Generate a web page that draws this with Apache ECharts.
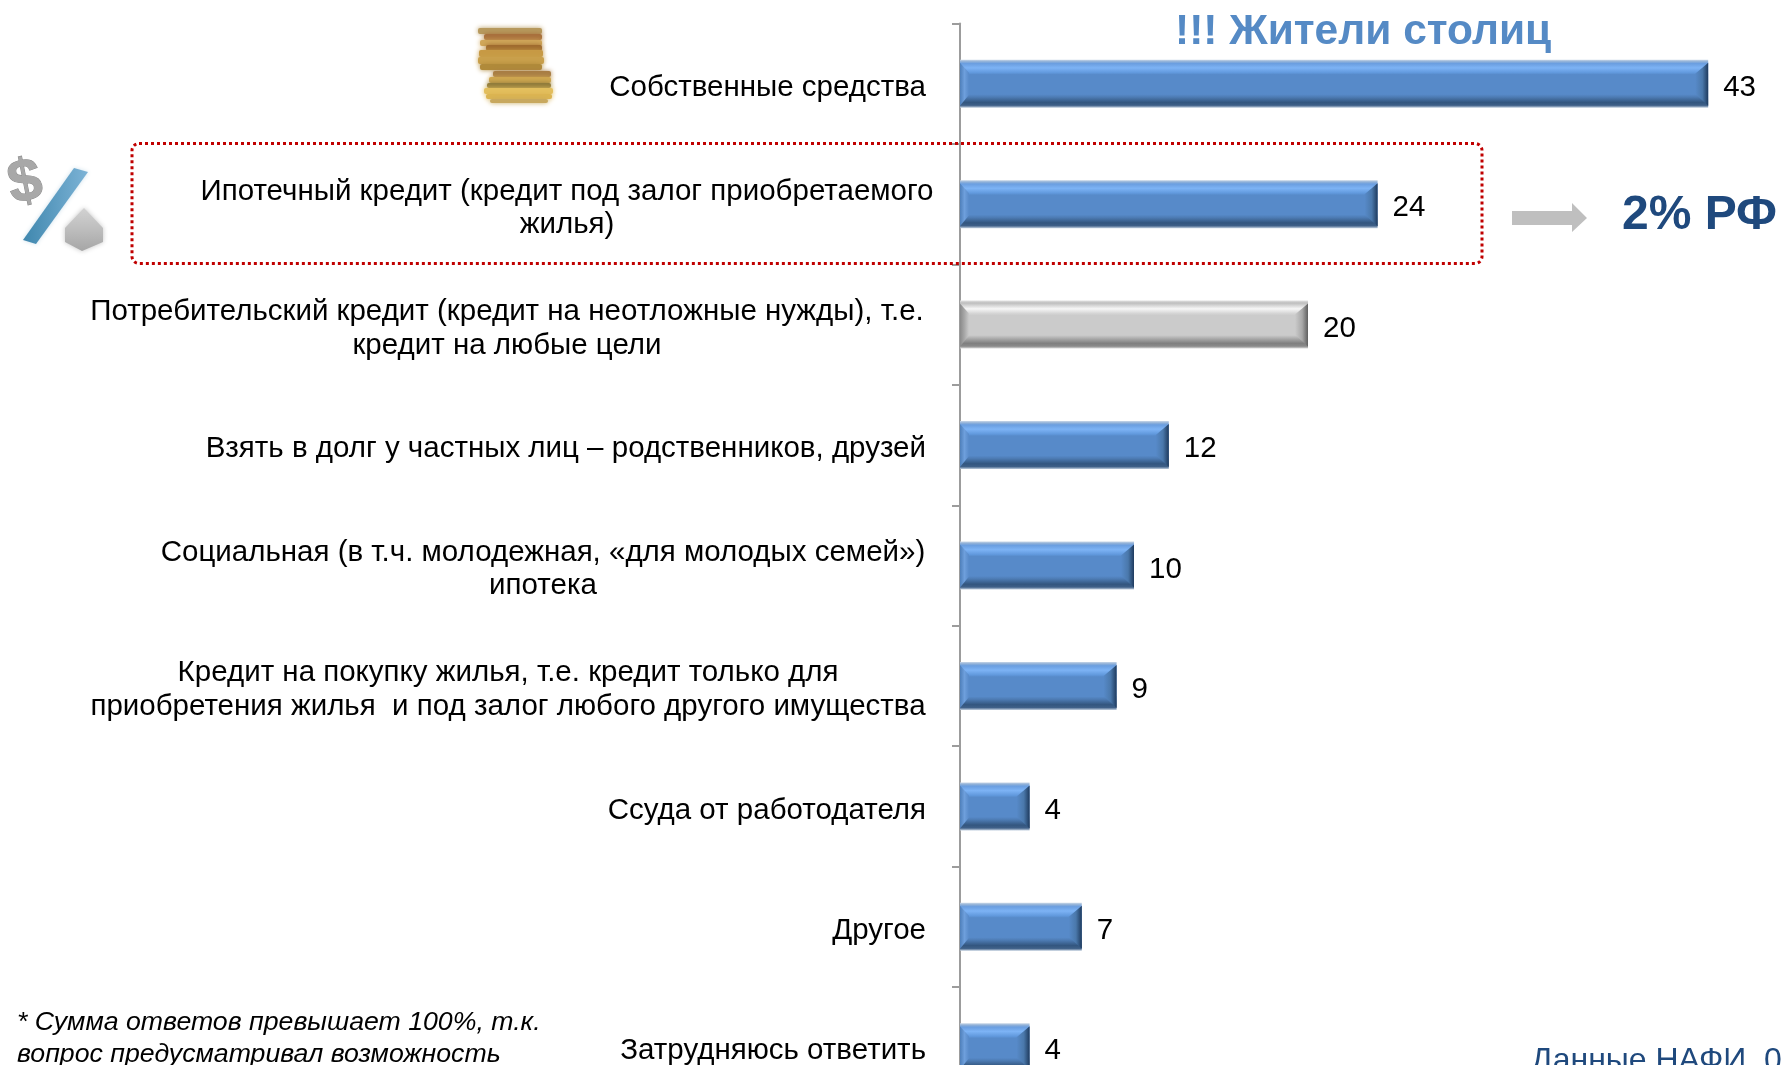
<!DOCTYPE html>
<html>
<head>
<meta charset="utf-8">
<style>html,body{margin:0;padding:0;background:#fff;overflow:hidden}#c{width:1781px;height:1065px}</style>
<script src="https://cdn.jsdelivr.net/npm/echarts@6/dist/echarts.min.js"></script>
</head>
<body>
<div id="c"></div>
<script>
const categories = [
  'Собственные средства',
  'Ипотечный кредит (кредит под залог приобретаемого\nжилья)',
  'Потребительский кредит (кредит на неотложные нужды), т.е.\nкредит на любые цели',
  'Взять в долг у частных лиц – родственников, друзей',
  'Социальная (в т.ч. молодежная, «для молодых семей»)\nипотека',
  'Кредит на покупку жилья, т.е. кредит только для\nприобретения жилья  и под залог любого другого имущества',
  'Ссуда от работодателя',
  'Другое',
  'Затрудняюсь ответить'
];
const values = [43, 24, 20, 12, 10, 9, 4, 7, 4];
const greyIndex = [2];
const titleText = '!!! Жители столиц';
const sideNote = '2% РФ';
const sourceText = 'Данные НАФИ, 0';
const footnoteText = '* Сумма ответов превышает 100%, т.к.\nвопрос предусматривал возможность';

const FONT = '"Liberation Sans", Arial, sans-serif';
const LABEL_SIZE = 29.5, BAR_H = 48, BEVEL = 13;
const blockWidths = {1: 734, 2: 838, 4: 766, 5: 836};
const rightPads = {0: 8, 2: 8, 3: 8, 4: 8, 5: 8, 6: 8, 7: 8, 8: 8};

function vgrad(stops){
  return {type:'linear',x:0,y:0,x2:0,y2:1,colorStops:stops.map(s=>({offset:s[0],color:s[1]}))};
}
function hgrad(stops){
  return {type:'linear',x:0,y:0,x2:1,y2:0,colorStops:stops.map(s=>({offset:s[0],color:s[1]}))};
}
const blueFill = vgrad([[0,'#c8d6e6'],[0.04,'#8fb0d8'],[0.08,'#6a9ee0'],[0.17,'#7db3f5'],[0.27,'#6199dd'],[0.31,'#578ac9'],[0.72,'#578ac9'],[0.78,'#4d7bb3'],[0.89,'#33567f'],[0.95,'#3f6088'],[1,'#c0cede']]);
const greyFill = vgrad([[0,'#e0e0e0'],[0.05,'#bdbdbd'],[0.17,'#f6f6f6'],[0.27,'#d4d4d4'],[0.31,'#cbcbcb'],[0.72,'#cbcbcb'],[0.79,'#ababab'],[0.89,'#7f7f7f'],[0.95,'#8a8a8a'],[1,'#dcdcdc']]);

const rich = {};
categories.forEach((c,i)=>{
  rich['r'+i] = {
    fontFamily: FONT, fontSize: LABEL_SIZE, lineHeight: 33.5, color:'#000',
    align: blockWidths[i] ? 'center' : 'right',
    padding: [0, rightPads[i] || 0, 0, 0]
  };
  if (blockWidths[i]) rich['r'+i].width = blockWidths[i];
});

function bevelItem(params, api){
  const idx = api.value(0), val = api.value(1);
  const p = api.coord([val, idx]);
  const p0 = api.coord([0, idx]);
  const y = p[1]-BAR_H/2, h = BAR_H, x1 = p[0], x0 = p0[0];
  const grey = greyIndex.includes(idx);
  const main = grey ? '#cbcbcb' : '#578ac9';
  const dark = grey ? '#5f5f5f' : '#1f3b5e';
  const mid = grey ? '#a8a8a8' : '#4a78ab';
  const lite = grey ? '#a8a8a8' : '#6e9fdc';
  const t = 3, b = 2;
  return {type:'group', silent:true, children:[
    {type:'polygon', shape:{points:[[x1-BEVEL,y+BEVEL+1],[x1,y+t],[x1,y+h-b],[x1-BEVEL,y+h-BEVEL-1]]},
     style:{fill:{type:'linear',x:x1-BEVEL,y:0,x2:x1,y2:0,global:true,colorStops:[{offset:0,color:main},{offset:0.55,color:mid},{offset:1,color:dark}]}}},
    {type:'polygon', shape:{points:[[x0,y+t],[x0+9,y+BEVEL],[x0+9,y+h-BEVEL],[x0,y+h-b]]},
     style:{fill:{type:'linear',x:x0,y:0,x2:x0+9,y2:0,global:true,colorStops:[{offset:0,color:grey?'#8a8a8a':'#4e7fba'},{offset:0.5,color:lite},{offset:1,color:main}]}}}
  ]};
}

const coinRows = [
  [478,28,64,6,'#b79a5e'],[484,34,58,6,'#a8703c'],[480,40,62,6,'#d0a75a'],
  [486,45,56,6,'#9e6a2e'],[479,50,64,7,'#c79a45'],[478,57,66,7,'#c9a04c'],[480,64,62,6,'#b08a3a'],
  [493,71,58,6,'#a87d45'],[489,77,62,6,'#cfa750'],[487,83,64,5,'#8f7a3a'],[484,88,69,6,'#e3bf5e'],[486,94,66,5,'#dcb551'],[490,99,58,4,'#c8a85e']
];
const coinEls = coinRows.map(r=>({type:'rect',shape:{x:r[0],y:r[1],width:r[2],height:r[3],r:2},style:{fill:r[4],shadowBlur:5,shadowColor:r[4]}}));

const chart = echarts.init(document.getElementById('c'), null, {renderer:'canvas'});
chart.setOption({
  animation:false,
  backgroundColor:'#fff',
  grid:{left:960,top:23.5,width:870,height:1084,containLabel:false,outerBoundsMode:'none'},
  xAxis:{type:'value',min:0,max:50,show:false},
  yAxis:{
    type:'category',inverse:true,data:categories,
    axisLine:{show:true,lineStyle:{color:'#9c9c9c',width:2}},
    axisTick:{show:true,length:8,lineStyle:{color:'#9c9c9c',width:2},alignWithLabel:false},
    axisLabel:{
      interval:0,margin:26,align:'right',hideOverlap:false,padding:[8,0,0,0],
      fontFamily:FONT,fontSize:LABEL_SIZE,color:'#000',
      formatter:(v,i)=>v.split('\n').map(l=>`{r${i}|${l}}`).join('\n'),
      rich
    },
    splitLine:{show:false}
  },
  series:[
    {type:'bar',barWidth:BAR_H,z:2,
     data:values.map((v,i)=>({value:v,itemStyle:{color:greyIndex.includes(i)?greyFill:blueFill}})),
     label:{show:true,position:'right',distance:15,offset:[0,4],fontFamily:FONT,fontSize:LABEL_SIZE,color:'#000'}},
    {type:'custom',z:3,silent:true,renderItem:bevelItem,
     encode:{x:1,y:0},data:values.map((v,i)=>[i,v])}
  ],
  graphic:[
    {type:'group',z:1,children:coinEls},
    {type:'group',z:1,children:[
      {type:'text',x:3,y:158,rotation:0.2,style:{text:'$',font:'bold 60px "Liberation Sans"',fill:'#a8a8a8',stroke:'#8a8a8a',lineWidth:1,shadowBlur:6,shadowColor:'#bbb'}},
      {type:'polygon',shape:{points:[[74,168],[88,172],[36,244],[23,240]]},style:{fill:hgrad([[0,'#3f87ae'],[1,'#7db3d6']]),shadowBlur:4,shadowColor:'#cfe1ec'}},
      {type:'polygon',shape:{points:[[65,228],[84,208],[103,228],[103,242],[82,251],[65,242]]},style:{fill:vgrad([[0,'#d2d2d2'],[0.5,'#bdbdbd'],[1,'#a6a6a6']]),shadowBlur:5,shadowColor:'#c4c4c4'}}
    ]},
    {type:'rect',z:10,shape:{x:132,y:143.5,width:1350,height:120,r:7},
     style:{fill:'none',stroke:'#c00000',lineWidth:3,lineDash:[3,3]}},
    {type:'polygon',z:10,shape:{points:[[1512,211],[1572,211],[1572,203],[1587,218],[1572,232],[1572,225],[1512,225]]},style:{fill:'#bfbfbf'}},
    {type:'text',z:10,left:1175,top:11,style:{text:titleText,font:'bold 42.5px "Liberation Sans"',fill:'#558ac5'}},
    {type:'text',z:10,left:1622,top:192,style:{text:sideNote,font:'bold 48px "Liberation Sans"',fill:'#1f497d'}},
    {type:'text',z:10,x:1531,y:1045,style:{text:sourceText,font:'32px "Liberation Sans"',fill:'#1f497d'}},
    {type:'text',z:10,x:17,y:1007,style:{text:footnoteText,font:'italic 26.7px "Liberation Sans"',lineHeight:32,fill:'#000'}}
  ]
});
</script>
</body>
</html>
